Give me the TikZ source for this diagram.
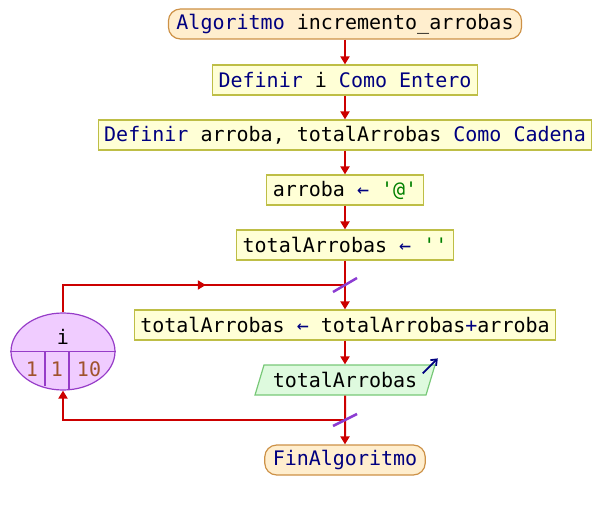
\documentclass[tikz,border=0pt]{standalone}
\usepackage{fontspec}
\newfontfamily\codefont{DejaVu Sans Mono}
\usetikzlibrary{shapes.geometric,arrows.meta,calc,decorations.markings}

\definecolor{kw}{RGB}{0,0,128}
\definecolor{strc}{RGB}{0,128,0}
\definecolor{numc}{RGB}{160,82,45}
\definecolor{flowred}{RGB}{204,0,0}
\definecolor{boxfill}{RGB}{255,255,214}
\definecolor{boxline}{RGB}{190,190,70}
\definecolor{termfill}{RGB}{255,238,206}
\definecolor{termline}{RGB}{205,145,70}
\definecolor{outfill}{RGB}{222,250,222}
\definecolor{outline}{RGB}{120,200,120}
\definecolor{loopfill}{RGB}{240,204,255}
\definecolor{loopline}{RGB}{150,60,200}
\definecolor{slashc}{RGB}{140,60,210}

\newcommand{\kwd}[1]{\textcolor{kw}{#1}}
\newcommand{\strv}[1]{\textcolor{strc}{#1}}
\newcommand{\asg}{\textcolor{kw}{←}}

\tikzset{
  base/.style={font=\codefont\fontsize{20}{24}\selectfont, minimum height=30pt, inner ysep=0pt, inner xsep=6pt, line width=1.2pt},
  procbox/.style={base, draw=boxline, fill=boxfill},
  termbox/.style={base, draw=termline, fill=termfill, rounded corners=12pt, inner xsep=8pt},
  outbox/.style={base, draw=outline, fill=outfill, trapezium, trapezium left angle=60, trapezium right angle=120, trapezium stretches body, minimum width=180pt},
  loopbox/.style={draw=loopline, fill=loopfill, ellipse, minimum width=104pt, minimum height=77pt, line width=1.2pt, inner sep=0pt},
  flow/.style={draw=flowred, line width=2pt, -{Triangle[length=8pt,width=9pt]}},
  plainflow/.style={draw=flowred, line width=2pt},
  slash/.style={draw=slashc, line width=2.5pt},
  midtip/.style={postaction={decorate}, decoration={markings, mark=at position #1 with {\arrow{Triangle[length=8pt,width=9pt]}}}},
  looptext/.style={font=\codefont\fontsize{20}{24}\selectfont, inner sep=0pt}
}

\begin{document}
\begin{tikzpicture}[x=1pt, y=-1pt]
  \useasboundingbox (0,0) rectangle (601,510);

  % flowchart blocks
  \node[termbox] (start) at (345,24) {\kwd{Algoritmo} incremento\_arrobas};
  \node[procbox] (defi) at (345,80) {\kwd{Definir} i \kwd{Como Entero}};
  \node[procbox] (defs) at (345,135) {\kwd{Definir} arroba, totalArrobas \kwd{Como Cadena}};
  \node[procbox] (seta) at (345,190) {arroba \asg{} \strv{'@'}};
  \node[procbox] (sett) at (345,245) {totalArrobas \asg{} \strv{''}};
  \node[procbox] (body) at (345,325) {totalArrobas \asg{} totalArrobas\kwd{+}arroba};
  \node[outbox] (out) at (345,380) {totalArrobas};
  \node[termbox] (fin) at (345,460) {\kwd{FinAlgoritmo}};

  % for-loop counter
  \node[loopbox] (loop) at (63,351.5) {};
  \draw[loopline, line width=1.2pt] (loop.west) -- (loop.east);
  \draw[loopline, line width=1.2pt] ($(loop.center)+(-18,0)$) -- ++(0,34.5);
  \draw[loopline, line width=1.2pt] ($(loop.center)+(6,0)$) -- ++(0,37);
  \node[looptext] (lvar) at (63,337) {i};
  \node[looptext, text=numc] (lfrom) at (32,369) {1};
  \node[looptext, text=numc] (lstep) at (57,369) {1};
  \node[looptext, text=numc] (lto) at (89,369) {10};

  % loop junctions
  \coordinate (jtop) at (345,285);
  \coordinate (jbot) at (345,420);

  % connectors
  \draw[flow] (start) -- (defi);
  \draw[flow] (defi) -- (defs);
  \draw[flow] (defs) -- (seta);
  \draw[flow] (seta) -- (sett);
  \draw[flow] (sett) -- (body);
  \draw[flow] (body) -- (out);
  \draw[flow] (out) -- (fin);
  \draw[plainflow, midtip=0.55] (loop.north) |- (jtop);
  \draw[flow] (jbot) -| (loop.south);

  % loop markers
  \draw[slash] ($(jtop)+(-12,7)$) -- ($(jtop)+(12,-7)$);
  \draw[slash] ($(jbot)+(-12,6)$) -- ($(jbot)+(12,-6)$);

  % output marker
  \draw[kw, line width=1.8pt, -{Straight Barb[length=5pt,width=8pt]}] ($(out.top right corner)+(-13,9)$) -- ($(out.top right corner)+(2,-6)$);
\end{tikzpicture}
\end{document}
